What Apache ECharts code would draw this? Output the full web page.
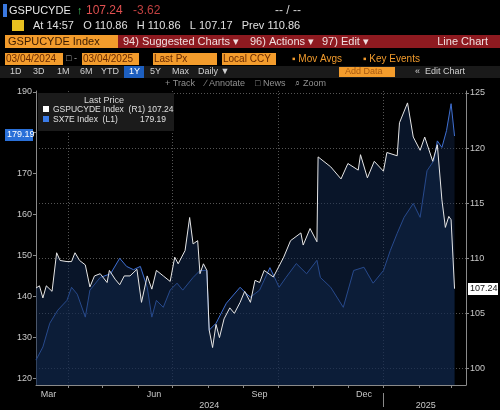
<!DOCTYPE html>
<html>
<head>
<meta charset="utf-8">
<script src="https://cdn.jsdelivr.net/npm/echarts@6/dist/echarts.min.js"></script>
<style>
  html, body { margin: 0; padding: 0; background: #000; }
  #chart { width: 500px; height: 410px; }
</style>
</head>
<body>
<div id="chart"></div>
<script>
// GSPUCYDE Index (right axis, white)
var whiteDates = ['2024-03-04','2024-03-07','2024-03-10','2024-03-13','2024-03-18','2024-03-22','2024-03-25','2024-03-31',
    '2024-04-04','2024-04-07','2024-04-11','2024-04-16','2024-04-20','2024-04-24','2024-04-29','2024-05-05','2024-05-07',
    '2024-05-12','2024-05-16','2024-05-20','2024-05-25','2024-05-31','2024-06-04','2024-06-09','2024-06-13','2024-06-17',
    '2024-06-23','2024-06-29','2024-07-03','2024-07-06','2024-07-12','2024-07-16','2024-07-19','2024-07-23','2024-07-25',
    '2024-07-28','2024-07-31','2024-08-02','2024-08-05','2024-08-08','2024-08-11','2024-08-15','2024-08-20','2024-08-24',
    '2024-08-29','2024-09-02','2024-09-07','2024-09-11','2024-09-15','2024-09-19','2024-09-27','2024-10-06','2024-10-12',
    '2024-10-21','2024-10-23','2024-10-29','2024-11-04','2024-11-05','2024-11-16','2024-11-25','2024-12-01','2024-12-10',
    '2024-12-12','2024-12-18','2024-12-24','2025-01-01','2025-01-04','2025-01-13','2025-01-15','2025-01-22','2025-01-27',
    '2025-02-02','2025-02-06','2025-02-13','2025-02-17','2025-02-21','2025-02-24','2025-02-27','2025-03-01','2025-03-04'];
var whiteVals = [107.3,107.5,106.4,107.5,107.0,110.5,109.8,109.7,
    109.7,110.5,109.8,109.4,107.4,108.4,108.6,107.8,108.9,
    108.1,107.6,108.4,108.4,109.0,106.0,108.4,107.2,108.9,
    108.4,107.9,110.1,109.5,110.7,113.7,111.3,111.6,108.6,
    109.5,108.9,103.5,101.9,104.0,102.8,104.5,105.5,105.0,
    106.0,107.0,106.0,108.0,107.8,108.9,108.3,110.1,111.6,
    112.3,111.2,112.7,111.5,119.2,118.3,117.2,118.6,118.0,
    119.4,117.3,118.8,117.9,119.6,119.3,122.3,124.1,121.0,
    119.8,121.0,118.8,120.3,115.3,112.8,113.8,113.5,107.24];

// SX7E Index (left axis, blue)
var blueDates = ['2024-03-04','2024-03-10','2024-03-16','2024-03-23','2024-03-31','2024-04-04','2024-04-09','2024-04-16',
    '2024-04-20','2024-04-29','2024-05-08','2024-05-16','2024-05-22','2024-05-28','2024-06-03','2024-06-09','2024-06-13',
    '2024-06-17','2024-06-23','2024-06-29','2024-07-05','2024-07-10','2024-07-19','2024-07-25','2024-07-31','2024-08-02',
    '2024-08-08','2024-08-17','2024-08-29','2024-09-04','2024-09-07','2024-09-15','2024-09-24','2024-10-02','2024-10-08',
    '2024-10-17','2024-10-26','2024-11-04','2024-11-07','2024-11-16','2024-11-27','2024-12-06','2024-12-15','2024-12-23',
    '2025-01-01','2025-01-07','2025-01-13','2025-01-19','2025-01-27','2025-02-02','2025-02-08','2025-02-14','2025-02-17',
    '2025-02-21','2025-02-25','2025-03-01','2025-03-04'];
var blueVals = [124.4,127.6,133.4,136.6,139.0,142.2,140.5,134.9,
    141.5,144.6,145.5,149.3,147.3,146.5,147.3,142.2,134.9,
    139.0,137.3,141.5,143.2,141.5,144.6,146.3,146.3,131.7,
    133.4,138.3,142.2,140.5,139.8,141.5,147.0,142.2,144.6,
    148.0,145.5,148.8,144.6,142.2,137.3,146.3,147.1,143.2,
    146.3,151.2,155.4,159.3,162.7,159.3,170.7,173.2,178.0,
    176.4,180.5,187.1,179.19];

var leftTicks = [120, 130, 140, 150, 160, 170, 180, 190];
var rightTicks = [100, 105, 110, 115, 120, 125];
var monthLabelDates = ['2024-03-15', '2024-06-15', '2024-09-15', '2024-12-15'];
var monthLabels = ['Mar', 'Jun', 'Sep', 'Dec'];
var monthStarts = ['2024-04-01','2024-05-01','2024-06-01','2024-07-01','2024-08-01','2024-09-01','2024-10-01',
    '2024-11-01','2024-12-01','2025-01-01','2025-02-01','2025-03-01'];
var quarterStarts = ['2024-04-01', '2024-07-01', '2024-10-01', '2025-01-01'];
var yearLabelDates = ['2024-08-02', '2025-02-07'];
var yearLabels = ['2024', '2025'];

function ts(s) { return +new Date(s + 'T00:00:00'); }
function pairs(d, v) { return d.map(function (x, i) { return [ts(x), v[i]]; }); }

var chart = echarts.init(document.getElementById('chart'));
var font = 'Arial, "Liberation Sans", sans-serif';
var xMin = ts('2024-03-04'), xMax = ts('2025-03-14');

function hdr(x, y, text, color, size, extra) {
    var s = { text: text, fill: color, font: (size || 12) + 'px ' + font, textVerticalAlign: 'middle' };
    if (extra) for (var k in extra) s[k] = extra[k];
    return { type: 'text', x: x, y: y, style: s, z: 10 };
}
function box(x, y, w, h, color) {
    return { type: 'rect', shape: { x: x, y: y, width: w, height: h }, style: { fill: color }, z: 5 };
}

var option = {
    backgroundColor: '#000',
    animation: false,
    grid: { left: 36, right: 34, top: 91, bottom: 25 },
    xAxis: [
        {
            type: 'value', min: xMin, max: xMax,
            axisLine: { lineStyle: { color: '#8a8a8a' } },
            axisTick: { customValues: monthStarts.map(ts), length: 3, lineStyle: { color: '#8a8a8a' } },
            axisLabel: {
                customValues: monthLabelDates.map(ts), color: '#c8c8c8', fontSize: 9, fontFamily: font, margin: 5,
                formatter: function (v) { return monthLabels[monthLabelDates.map(ts).indexOf(v)]; }
            },
            splitLine: { show: false }
        },
        {
            type: 'value', min: xMin, max: xMax,
            axisLine: { show: false },
            axisTick: { customValues: quarterStarts.map(ts), length: 0 },
            axisLabel: { show: false },
            splitLine: { show: true, lineStyle: { color: '#555', type: [1, 2], width: 1 } }
        },
        {
            type: 'value', min: xMin, max: xMax, position: 'bottom', offset: 8,
            axisLine: { show: false },
            axisTick: { customValues: [ts('2025-01-01')], length: 14, lineStyle: { color: '#8a8a8a' } },
            axisLabel: {
                customValues: yearLabelDates.map(ts), color: '#c8c8c8', fontSize: 9, fontFamily: font, margin: 8,
                formatter: function (v) { return yearLabels[yearLabelDates.map(ts).indexOf(v)]; }
            },
            splitLine: { show: false }
        }
    ],
    yAxis: [
        {
            type: 'value', position: 'left', min: 118.3, max: 190.2,
            axisLine: { show: true, lineStyle: { color: '#8a8a8a' } },
            axisTick: { show: true, customValues: leftTicks, length: 3 },
            axisLabel: { customValues: leftTicks, color: '#c8c8c8', fontSize: 9, fontFamily: font, margin: 4 },
            splitLine: { show: false }
        },
        {
            type: 'value', position: 'right', min: 98.5, max: 125.18,
            axisLine: { show: true, lineStyle: { color: '#8a8a8a' } },
            axisTick: { show: true, customValues: rightTicks, length: 3 },
            axisLabel: { customValues: rightTicks, color: '#c8c8c8', fontSize: 9, fontFamily: font, margin: 4 },
            splitLine: { show: true, lineStyle: { color: '#555', type: [1, 2] } }
        }
    ],
    series: [
        {
            name: 'GSPUCYDE Index (R1)', type: 'line', yAxisIndex: 1, xAxisIndex: 0,
            data: pairs(whiteDates, whiteVals), showSymbol: false,
            lineStyle: { color: '#e6e6e6', width: 1 },
            areaStyle: { color: 'rgba(18,40,78,0.75)', origin: 'start' }, z: 3
        },
        {
            name: 'SX7E Index (L1)', type: 'line', yAxisIndex: 0, xAxisIndex: 0,
            data: pairs(blueDates, blueVals), showSymbol: false,
            lineStyle: { color: '#3f6fd1', width: 1 },
            areaStyle: { color: 'rgba(18,40,78,0.6)', origin: 'start' }, z: 2
        }
    ],
    graphic: [
        box(3, 4, 4, 13, '#3a78e0'),
        hdr(9, 11, 'GSPUCYDE', '#e8e8e8', 11),
        hdr(77, 11, '\u2191', '#3fbf5f', 11),
        hdr(86, 11, '107.24', '#e05050', 12),
        hdr(133, 11, '-3.62', '#c04040', 12),
        hdr(275, 11, '-- / --', '#d0d0d0', 12),
        box(12, 20, 12, 11, '#e8c020'),
        hdr(33, 26, 'At 14:57   O 110.86   H 110.86   L 107.17   Prev 110.86', '#e0e0e0', 11),
        box(5, 35, 113, 13, '#f39c2c'),
        box(118, 35, 382, 13, '#8e1a20'),
        hdr(8, 42, 'GSPUCYDE Index', '#3a1a00', 11),
        hdr(123, 42, '94) Suggested Charts \u25be', '#f0e0e0', 11),
        hdr(250, 42, '96) Actions \u25be', '#f0e0e0', 11),
        hdr(322, 42, '97) Edit \u25be', '#f0e0e0', 11),
        hdr(488, 42, 'Line Chart', '#f0e0e0', 11, { textAlign: 'right' }),
        box(5, 53, 58, 12, '#f39c2c'),
        box(82, 53, 57, 12, '#f39c2c'),
        box(153, 53, 64, 12, '#f39c2c'),
        box(222, 53, 54, 12, '#f39c2c'),
        hdr(6, 59, '03/04/2024', '#6a2a00', 10),
        hdr(66, 59, '\u25a1 -', '#aaa', 9),
        hdr(83, 59, '03/04/2025', '#6a2a00', 10),
        hdr(154, 59, 'Last Px', '#6a2a00', 10),
        hdr(223, 59, 'Local CCY', '#6a2a00', 10),
        hdr(292, 59, '\u25aa Mov Avgs', '#f09a2c', 10),
        hdr(363, 59, '\u25aa Key Events', '#f09a2c', 10),
        box(0, 66, 500, 12, '#1a1a1a'),
        box(124, 66, 20, 12, '#1d5fc0'),
        hdr(10, 72, '1D', '#d0d0d0', 9), hdr(33, 72, '3D', '#d0d0d0', 9), hdr(57, 72, '1M', '#d0d0d0', 9),
        hdr(80, 72, '6M', '#d0d0d0', 9), hdr(101, 72, 'YTD', '#d0d0d0', 9), hdr(129, 72, '1Y', '#ffffff', 9),
        hdr(150, 72, '5Y', '#d0d0d0', 9), hdr(172, 72, 'Max', '#d0d0d0', 9), hdr(198, 72, 'Daily \u25bc', '#d0d0d0', 9),
        box(339, 67, 56, 10, '#f39c2c'),
        hdr(345, 72, 'Add Data', '#a85a10', 9),
        hdr(415, 72, '\u00ab  Edit Chart', '#d0d0d0', 9),
        hdr(165, 84, '+ Track    \u2215 Annotate    \u25a1 News    \u2315 Zoom', '#909090', 9),
        box(38, 93, 136, 38, '#1b1b1b'),
        hdr(104, 101, 'Last Price', '#d8d8d8', 9, { textAlign: 'center' }),
        box(43, 106, 6, 6, '#ffffff'),
        hdr(53, 110, 'GSPUCYDE Index  (R1) 107.24', '#e0e0e0', 8.5),
        box(43, 116, 6, 6, '#3a7be8'),
        hdr(53, 120, 'SX7E Index  (L1)', '#e0e0e0', 8.5),
        hdr(166, 120, '179.19', '#e0e0e0', 8.5, { textAlign: 'right' }),
        box(5, 129, 28, 12, '#2a70d8'),
        hdr(7, 135, '179.19', '#ffffff', 9),
        box(468, 283, 30, 12, '#ffffff'),
        hdr(470, 289, '107.24', '#111', 9)
    ]
};

chart.setOption(option);
</script>
</body>
</html>
